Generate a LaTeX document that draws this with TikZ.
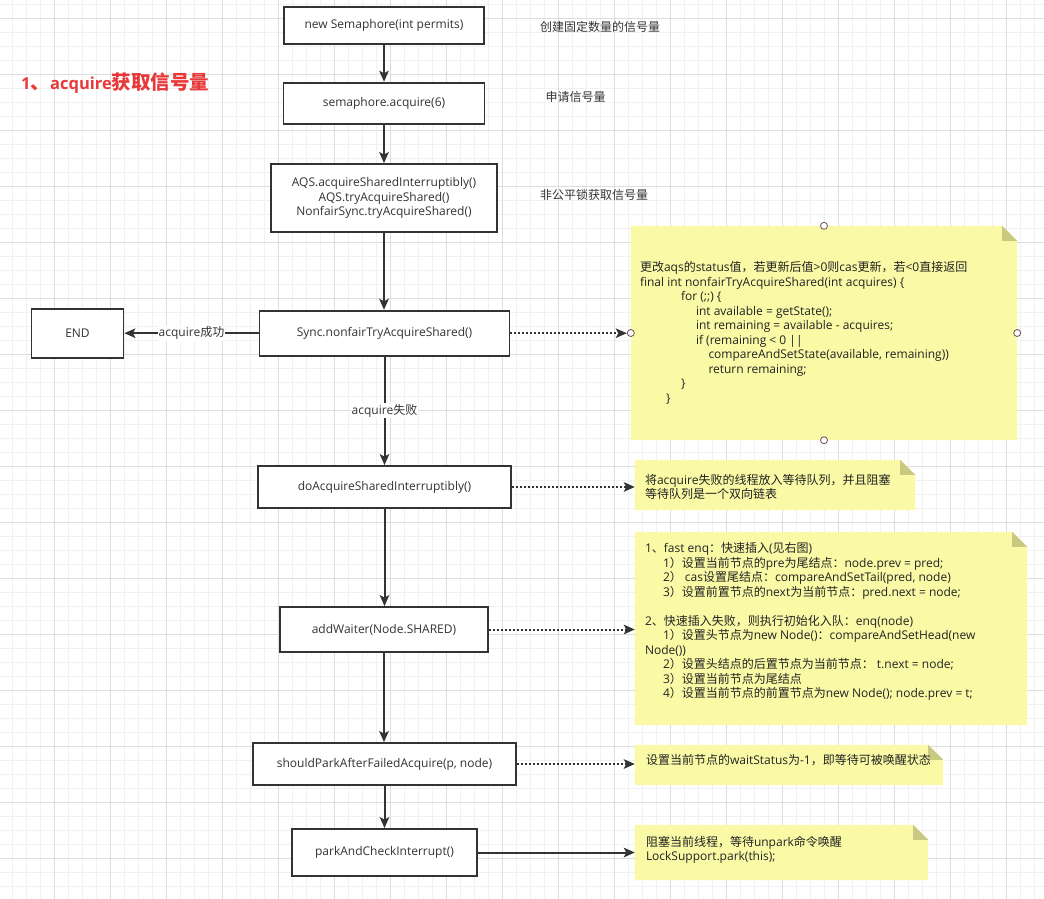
\documentclass[tikz,border=0pt]{standalone}
\usepackage{fontspec}
\setmainfont{Open Sans}
\newfontfamily\cjkfam{Noto Sans CJK SC}
\usetikzlibrary{arrows.meta}
% --- automatic switch between Latin and CJK fonts ---
\chardef\mycjkclass=200
\newcount\cjkcnt
\def\setcjkrange#1#2{\cjkcnt=#1\relax
  \loop\XeTeXcharclass\cjkcnt=\mycjkclass\relax
  \ifnum\cjkcnt<#2\relax\advance\cjkcnt by 1\relax\repeat}
\def\setlatinrange#1#2{\cjkcnt=#1\relax
  \loop\XeTeXcharclass\cjkcnt=0\relax
  \ifnum\cjkcnt<#2\relax\advance\cjkcnt by 1\relax\repeat}
\setlatinrange{"21}{"7E}
\setcjkrange{"3000}{"303F}
\setcjkrange{"4E00}{"9FFF}
\setcjkrange{"FF00}{"FFEF}
\XeTeXinterchartoks 0 \mycjkclass = {\cjkfam}
\XeTeXinterchartoks 4095 \mycjkclass = {\cjkfam}
\XeTeXinterchartoks \mycjkclass 0 = {\rmfamily}
\XeTeXinterchartoks \mycjkclass 4095 = {\rmfamily}
\XeTeXinterchartokenstate=1
\definecolor{boxline}{HTML}{333333}
\definecolor{arrowc}{HTML}{333333}
\definecolor{txt}{HTML}{333333}
\definecolor{notetxt}{HTML}{222222}
\definecolor{notefill}{HTML}{FAFAA6}
\definecolor{foldfill}{HTML}{C9C981}
\definecolor{minorgrid}{HTML}{F1F1F1}
\definecolor{majorgrid}{HTML}{DDDDDD}
\definecolor{titlered}{HTML}{E8393A}
\definecolor{handlec}{HTML}{6D4A5A}
\tikzset{
  box/.style={draw=boxline, line width=1.8pt, fill=white, inner sep=0pt,
    font=\fontsize{12}{14.5}\selectfont, text=txt, align=center},
  flow/.style={draw=arrowc, line width=2pt,
    -{Stealth[length=11pt,width=9.5pt,inset=2.5pt]}},
  dotflow/.style={flow, dash pattern=on 2pt off 2pt},
  lab/.style={fill=white, inner sep=1pt, font=\fontsize{12}{14.5}\selectfont, text=txt},
  sidelab/.style={inner sep=0pt, anchor=west, font=\fontsize{12}{14.5}\selectfont, text=txt},
  notearea/.style={inner sep=0pt, draw=none},
  notetext/.style={inner sep=0pt, align=left, anchor=west,
    font=\fontsize{12}{14.5}\selectfont, text=notetxt},
  handle/.style={circle, draw=handlec, fill=white, line width=0.8pt,
    minimum size=7pt, inner sep=0pt},
}
\newcommand{\notebg}[1]{%
  \fill[notefill] (#1.north west) -- ([xshift=-15pt]#1.north east)
    -- ([yshift=-15pt]#1.north east) -- (#1.south east) -- (#1.south west) -- cycle;
  \fill[foldfill] ([xshift=-15pt]#1.north east) -- ([yshift=-15pt]#1.north east)
    -- ([xshift=-15pt,yshift=-15pt]#1.north east) -- cycle;}
\begin{document}
\begin{tikzpicture}[x=1pt,y=-1pt]
\useasboundingbox (0,0) rectangle (1044,899);
\fill[white] (0,0) rectangle (1044,899);
% grid
\foreach \i in {0,...,75} {\draw[minorgrid, line width=0.8pt] ({-1.7+14*\i},0) -- ({-1.7+14*\i},899);}
\foreach \i in {0,...,65} {\draw[minorgrid, line width=0.8pt] (0,{4.3+14*\i}) -- (1044,{4.3+14*\i});}
\foreach \i in {0,...,19} {\draw[majorgrid, line width=0.8pt] ({-1.7+56*\i},0) -- ({-1.7+56*\i},899);}
\foreach \i in {0,...,16} {\draw[majorgrid, line width=0.8pt] (0,{18.3+56*\i}) -- (1044,{18.3+56*\i});}

% title
\node[inner sep=0pt, anchor=west, text=titlered, font=\fontsize{19.5}{22}\selectfont\bfseries] (title) at (21,83)
  {{\fontsize{16.5}{19}\selectfont 1}、{\fontsize{16.5}{19}\selectfont acquire}获取信号量};

% flow boxes
\node[box, minimum width=200pt, minimum height=37.5pt] (b1) at (384,25.5) {new Semaphore(int permits)};
\node[box, minimum width=201pt, minimum height=41.3pt] (b2) at (384,103.3) {semaphore.acquire(6)};
\node[box, minimum width=226pt, minimum height=68pt] (b3) at (384,198)
  {AQS.acquireSharedInterruptibly()\\AQS.tryAcquireShared()\\NonfairSync.tryAcquireShared()};
\node[box, minimum width=250pt, minimum height=45pt] (sync) at (384.5,333.2) {Sync.nonfairTryAcquireShared()};
\node[box, minimum width=92pt, minimum height=49pt] (endn) at (77.5,333.5) {END};
\node[box, minimum width=253pt, minimum height=42pt] (doacq) at (384.5,487) {doAcquireSharedInterruptibly()};
\node[box, minimum width=208pt, minimum height=45pt] (addw) at (384,629.5) {addWaiter(Node.SHARED)};
\node[box, minimum width=263pt, minimum height=42pt] (spark) at (384.5,764) {shouldParkAfterFailedAcquire(p, node)};
\node[box, minimum width=185pt, minimum height=47pt] (park) at (384.5,852.5) {parkAndCheckInterrupt()};

% side labels
\node[sidelab] (l1) at (540,26.5) {创建固定数量的信号量};
\node[sidelab] (l2) at (545.5,97.3) {申请信号量};
\node[sidelab] (l3) at (540,195) {非公平锁获取信号量};

% notes
\node[notearea, minimum width=386pt, minimum height=214pt] (n1) at (824,333) {};
\node[notearea, minimum width=280pt, minimum height=50pt] (n2) at (775,485) {};
\node[notearea, minimum width=392pt, minimum height=193pt] (n3) at (831,628.5) {};
\node[notearea, minimum width=308pt, minimum height=40pt] (n4) at (789,765) {};
\node[notearea, minimum width=293pt, minimum height=55pt] (n5) at (781.5,852.5) {};
\notebg{n1}\notebg{n2}\notebg{n3}\notebg{n4}\notebg{n5}

\node[notetext] (n1t) at ([xshift=9pt]n1.west) {%
更改aqs的status值，若更新后值>0则cas更新，若<0直接返回\\
final int nonfairTryAcquireShared(int acquires) \{\\
\hspace*{41pt}for (;;) \{\\
\hspace*{56pt}int available = getState();\\
\hspace*{56pt}int remaining = available - acquires;\\
\hspace*{56pt}if (remaining < 0 ||\\
\hspace*{68.5pt}compareAndSetState(available, remaining))\\
\hspace*{68.5pt}return remaining;\\
\hspace*{41pt}\}\\
\hspace*{26pt}\}};

\node[notetext] (n2t) at ([xshift=10pt,yshift=-2pt]n2.west) {%
将acquire失败的线程放入等待队列，并且阻塞\\
等待队列是一个双向链表};

\node[notetext] (n3t) at ([xshift=10pt,yshift=7pt]n3.west) {%
1、fast enq：快速插入(见右图)\\
\hspace*{18pt}1）设置当前节点的pre为尾结点：node.prev = pred;\\
\hspace*{18pt}2） cas设置尾结点：compareAndSetTail(pred, node)\\
\hspace*{18pt}3）设置前置节点的next为当前节点：pred.next = node;\\[14.5pt]
2、快速插入失败，则执行初始化入队：enq(node)\\
\hspace*{18pt}1）设置头节点为new Node()：compareAndSetHead(new\\
Node())\\
\hspace*{18pt}2）设置头结点的后置节点为当前节点： t.next = node;\\
\hspace*{18pt}3）设置当前节点为尾结点\\
\hspace*{18pt}4）设置当前节点的前置节点为new Node(); node.prev = t;};

\node[notetext] (n4t) at ([xshift=11pt,yshift=5pt]n4.west) {%
设置当前节点的waitStatus为-1，即等待可被唤醒状态};

\node[notetext] (n5t) at ([xshift=11pt,yshift=2.5pt]n5.west) {%
阻塞当前线程，等待unpark命令唤醒\\
LockSupport.park(this);};

% connectors
\draw[flow] (b1.south) -- (b1.south |- b2.north);
\draw[flow] (b2.south) -- (b2.south |- b3.north);
\draw[flow] (b3.south) -- (b3.south |- sync.north);
\draw[flow] (sync.west) -- node[lab] {acquire成功} (endn.east |- sync.west);
\draw[flow] (sync.south) -- node[lab] {acquire失败} (sync.south |- doacq.north);
\draw[flow] (doacq.south) -- (doacq.south |- addw.north);
\draw[flow] (addw.south) -- (addw.south |- spark.north);
\draw[flow] (spark.south) -- (spark.south |- park.north);

\draw[dotflow, shorten >=4pt] (sync.east) -- (sync.east -| n1.west);
\draw[dotflow] (doacq.east) -- (doacq.east -| n2.west);
\draw[dotflow] (addw.east) -- (addw.east -| n3.west);
\draw[dotflow] (spark.east) -- (spark.east -| n4.west);
\draw[flow] (park.east) -- (park.east -| n5.west);

% selection handles of the large note
\node[handle] (h1) at (n1.north) {};
\node[handle] (h2) at (n1.south) {};
\node[handle] (h3) at (n1.west) {};
\node[handle] (h4) at (n1.east) {};
\end{tikzpicture}
\end{document}
